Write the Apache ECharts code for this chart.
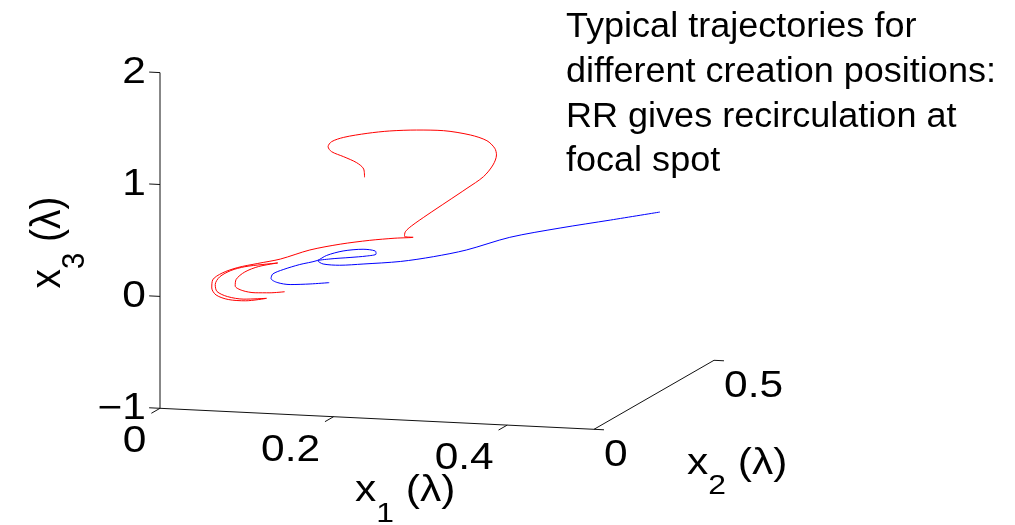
<!DOCTYPE html>
<html><head><meta charset="utf-8">
<script src="https://cdn.jsdelivr.net/npm/echarts@6/dist/echarts.min.js"></script>
<style>html,body{margin:0;padding:0;background:#fff}#chart{width:1015px;height:525px}</style>
</head><body><div id="chart"></div>
<script>
// ---- axis limits, ticks, labels ----
const x1Range = [0, 0.5];
const x2Range = [0, 0.5];
const x3Range = [-1, 2];
const x1Ticks = [0, 0.2, 0.4];
const x2Ticks = [0, 0.5];
const x3Ticks = [-1, 0, 1, 2];
const x1TickLabels = ['0', '0.2', '0.4'];
const x2TickLabels = ['0', '0.5'];
const x3TickLabels = ['\u22121', '0', '1', '2'];
const axisNames = { x1: ['x', '1', ' (\u03bb)'], x2: ['x', '2', ' (\u03bb)'], x3: ['x', '3', ' (\u03bb)'] };
const titleLines = ['Typical trajectories for', 'different creation positions:', 'RR gives recirculation at', 'focal spot'];

// ---- trajectories (x1, x3 in lambda; x2 depth estimated) ----
const redX1 = [0.116,0.099,0.082,0.067,0.059,0.060,0.070,0.086,0.108,0.090,0.070,0.054,0.041,0.036,0.038,0.050,0.069,0.095,0.071,0.051,0.037,0.032,0.033,0.044,0.062,0.085,0.111,0.145,0.180,0.214,0.243,0.264,0.254,0.255,0.262,0.280,0.303,0.326,0.345,0.356,0.360,0.358,0.349,0.330,0.299,0.268,0.237,0.211,0.184,0.170,0.166,0.170,0.184,0.199,0.207,0.208];
const redX3 = [-0.038,-0.054,-0.060,-0.045,-0.008,0.050,0.121,0.176,0.216,0.195,0.168,0.128,0.066,-0.004,-0.065,-0.106,-0.122,-0.105,-0.136,-0.132,-0.097,-0.036,0.036,0.102,0.158,0.203,0.252,0.346,0.411,0.458,0.488,0.504,0.509,0.550,0.604,0.709,0.837,0.965,1.076,1.185,1.276,1.335,1.399,1.443,1.470,1.464,1.444,1.413,1.367,1.323,1.277,1.234,1.194,1.146,1.093,1.019];
const redX2 = 0.1;
const blueX1 = [0.112,0.090,0.067,0.052,0.045,0.047,0.059,0.078,0.098,0.109,0.128,0.151,0.165,0.166,0.155,0.136,0.113,0.099,0.105,0.124,0.151,0.194,0.232,0.270,0.320,0.378,0.436,0.493];
const blueX3 = [-0.205,-0.225,-0.239,-0.226,-0.193,-0.152,-0.108,-0.056,-0.013,0.037,0.084,0.108,0.098,0.071,0.049,0.029,0.007,-0.016,-0.041,-0.045,-0.024,0.015,0.072,0.146,0.278,0.383,0.476,0.569];
const blueX2 = 0.3;

// ---- view (orthographic projection of 3D box onto the plane) ----
const VIEW = { a: 240 / 868, b: -42 / 111.9, c: 138 / 111.9 };
function proj(x1, x2, x3) { return [x1 + VIEW.a * x2, x3 + VIEW.b * x1 + VIEW.c * x2]; }

const FONT = "'Liberation Sans', Arial, Helvetica, sans-serif";
const SX = 1.18; // horizontal stretch of the reference's lettering
const mctx = document.createElement('canvas').getContext('2d');
function tw(s, size) { mctx.font = size + 'px ' + FONT; return mctx.measureText(s).width; }

function txt(x, y, text, size, align, extra) {
  return Object.assign({ type: 'text', x: x, y: y, scaleX: SX, silent: true,
    style: { x: 0, y: 0, text: text, fill: '#000', font: size + 'px ' + FONT, align: align, verticalAlign: 'middle' } }, extra || {});
}
function nameGroup(x, y, parts, rotated) {
  const M = 36, S = 27;
  const w0 = tw(parts[0], M), w1 = tw(parts[1], S);
  const mk = (t, size, lx, ly) => ({ type: 'text', x: lx, y: ly, silent: true,
    style: { x: 0, y: 0, text: t, fill: '#000', font: size + 'px ' + FONT, align: 'left', verticalAlign: 'middle' } });
  const g = { type: 'group', x: x, y: y, children: [mk(parts[0], M, 0, 0), mk(parts[1], S, w0, 23), mk(parts[2], M, w0 + w1, 0)] };
  if (rotated) { g.rotation = Math.PI / 2; g.scaleY = SX; g.scaleX = 1.08; } else { g.scaleX = SX; }
  return g;
}

function frameRender(params, api) {
  const P = (a, b, c) => api.coord(proj(a, b, c));
  const ch = [];
  const seg = (p, q) => ch.push({ type: 'line', silent: true, shape: { x1: p[0], y1: p[1], x2: q[0], y2: q[1] }, style: { stroke: '#111', lineWidth: 1 } });
  const lo1 = x1Range[0], hi1 = x1Range[1], lo2 = x2Range[0], hi2 = x2Range[1], lo3 = x3Range[0], hi3 = x3Range[1];
  seg(P(lo1, lo2, lo3), P(lo1, lo2, hi3));
  seg(P(lo1, lo2, lo3), P(hi1, lo2, lo3));
  seg(P(hi1, lo2, lo3), P(hi1, hi2, lo3));
  // ticks
  x3Ticks.forEach((t, i) => {
    seg(P(lo1, lo2, t), P(lo1 - 0.0125, lo2, t));
    const p = P(lo1, lo2, t);
    ch.push(txt(p[0] - 14, p[1] + 0.5, x3TickLabels[i], 36, 'right'));
  });
  x1Ticks.forEach((t, i) => {
    seg(P(t, lo2, lo3), P(t, lo2 - 0.036, lo3));
    const p = P(t, lo2, lo3);
    ch.push(txt(p[0] - 13.5, p[1] + 34, x1TickLabels[i], 36, 'right'));
  });
  x2Ticks.forEach((t, i) => {
    seg(P(hi1, t, lo3), P(hi1 + 0.0115, t, lo3));
    const p = P(hi1, t, lo3);
    ch.push(txt(p[0] + 10, p[1] + 26.5, x2TickLabels[i], 36, 'left'));
  });
  // axis names
  let p = P((lo1 + hi1) / 2, lo2, lo3);
  ch.push(nameGroup(p[0] - 22, p[1] + 72.5, axisNames.x1, false));
  p = P(hi1, (lo2 + hi2) / 2, lo3);
  ch.push(nameGroup(p[0] + 33, p[1] + 69, axisNames.x2, false));
  p = P(lo1, lo2, (lo3 + hi3) / 2);
  ch.push(nameGroup(p[0] - 112, p[1] + 48, axisNames.x3, true));
  // annotation text
  ch.push({ type: 'text', x: 566, y: 5, scaleX: SX * 0.985, scaleY: 1.12, silent: true,
    style: { x: 0, y: 0, text: titleLines.join('\n'), fill: '#000', font: '31px ' + FONT, lineHeight: 40, align: 'left', verticalAlign: 'top' } });
  return { type: 'group', children: ch };
}

function projSeries(x1s, x2, x3s) { return x1s.map((v, i) => proj(v, x2, x3s[i])); }

const chart = echarts.init(document.getElementById('chart'), null, { renderer: 'canvas' });
chart.setOption({
  animation: false,
  backgroundColor: '#fff',
  grid: { left: 160, right: 73.8, top: 27.84, bottom: 27.18, containLabel: false },
  xAxis: { type: 'value', min: 0, max: 0.9, show: false },
  yAxis: { type: 'value', min: -1.8, max: 2.4, show: false },
  series: [
    { type: 'custom', renderItem: frameRender, data: [[0, 0]], silent: true, z: 1 },
    { type: 'line', data: projSeries(redX1, redX2, redX3), showSymbol: false, smooth: 0.3, clip: false,
      lineStyle: { color: '#ff0000', width: 1 }, silent: true, z: 2 },
    { type: 'line', data: projSeries(blueX1, blueX2, blueX3), showSymbol: false, smooth: 0.3, clip: false,
      lineStyle: { color: '#0000ff', width: 1 }, silent: true, z: 2 }
  ]
});
</script></body></html>
